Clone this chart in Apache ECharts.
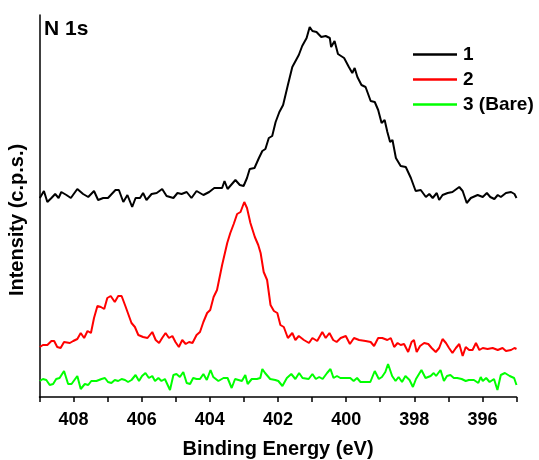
<!DOCTYPE html>
<html>
<head>
<meta charset="utf-8">
<script src="https://cdn.jsdelivr.net/npm/echarts@6/dist/echarts.min.js"></script>
<style>
html,body{margin:0;padding:0;background:#fff;}
#chart{width:539px;height:460px;}
</style>
</head>
<body>
<div id="chart"></div>
<script>
// Binding energy (eV) and intensity (arbitrary c.p.s. units)
const energy1 = [408.99,408.87,408.77,408.65,408.54,408.44,408.36,408.21,408.08,407.89,407.72,407.57,407.40,407.28,407.13,406.99,406.77,406.67,406.54,406.42,406.28,406.18,406.05,405.96,405.86,405.71,405.56,405.40,405.27,405.07,404.95,404.83,404.68,404.54,404.39,404.19,404.02,403.87,403.64,403.57,403.48,403.25,403.12,403.01,402.91,402.83,402.69,402.56,402.46,402.37,402.27,402.17,402.07,401.96,401.85,401.71,401.58,401.39,401.29,401.16,401.07,400.99,400.87,400.73,400.60,400.48,400.44,400.34,400.24,400.06,399.92,399.82,399.75,399.67,399.55,399.43,399.28,399.16,399.06,398.96,398.87,398.79,398.71,398.64,398.54,398.40,398.25,398.10,397.96,397.81,397.66,397.56,397.46,397.34,397.27,397.17,397.02,396.88,396.68,396.58,396.46,396.34,396.14,395.99,395.87,395.77,395.65,395.55,395.46,395.31,395.16,395.06,395.00];
const intensity1 = [199,206,195,199,203,199,205,202,199,208,203,200,206,197,199,199,207,207,195,202,190,199,199,204,197,203,204,208,201,199,204,203,205,199,206,202,205,209,209,216,208,217,212,211,219,228,229,239,246,248,259,261,275,285,292,312,330,342,351,359,370,366,365,360,361,359,350,356,343,339,330,324,329,320,312,310,296,295,287,274,277,265,255,257,239,231,230,219,206,207,200,203,199,204,197,202,204,205,210,206,194,199,202,200,204,200,198,202,200,204,205,203,199];

const energy2 = [408.99,408.90,408.77,408.65,408.57,408.48,408.38,408.28,408.11,408.01,407.89,407.79,407.69,407.59,407.49,407.40,407.30,407.20,407.10,407.01,406.91,406.79,406.69,406.59,406.48,406.30,406.20,406.10,405.96,405.83,405.69,405.59,405.49,405.40,405.30,405.20,405.10,405.01,404.91,404.81,404.71,404.61,404.51,404.39,404.29,404.19,404.08,403.99,403.89,403.79,403.64,403.49,403.40,403.30,403.20,403.10,402.99,402.91,402.81,402.68,402.58,402.51,402.42,402.32,402.22,402.12,402.02,401.93,401.83,401.71,401.58,401.49,401.39,401.24,401.09,400.99,400.85,400.70,400.60,400.49,400.38,400.28,400.16,400.01,399.89,399.77,399.62,399.43,399.28,399.18,399.06,398.94,398.79,398.69,398.59,398.49,398.40,398.30,398.18,398.08,398.01,397.93,397.83,397.71,397.59,397.49,397.37,397.27,397.17,397.07,396.98,396.88,396.78,396.68,396.58,396.49,396.39,396.29,396.19,396.09,395.99,395.85,395.70,395.55,395.41,395.31,395.16,395.06,395.00];
const intensity2 = [50,52,52,56,56,50,49,55,54,56,58,64,59,66,64,79,91,90,88,99,101,95,101,101,91,74,70,62,60,59,65,57,54,59,64,59,61,55,50,57,53,55,54,62,65,75,84,87,100,107,132,154,164,173,183,185,195,189,174,160,152,144,125,117,92,86,84,72,70,59,64,57,61,57,54,59,56,65,59,64,57,55,59,61,53,59,57,56,55,51,59,59,57,59,50,54,52,53,45,55,57,45,51,54,53,49,45,49,58,54,49,44,49,53,41,50,47,47,54,47,49,48,49,47,49,46,47,49,48];

const energy3 = [408.99,408.90,408.80,408.70,408.60,408.51,408.41,408.28,408.16,408.06,407.89,407.79,407.67,407.57,407.48,407.33,407.18,407.08,406.99,406.89,406.79,406.69,406.59,406.49,406.40,406.30,406.18,406.08,405.99,405.89,405.79,405.69,405.61,405.51,405.42,405.32,405.17,405.07,404.98,404.88,404.78,404.68,404.58,404.49,404.39,404.29,404.19,404.09,403.98,403.90,403.75,403.60,403.48,403.36,403.26,403.16,403.06,402.96,402.89,402.77,402.62,402.52,402.46,402.38,402.23,402.08,401.99,401.87,401.74,401.61,401.49,401.38,401.28,401.10,400.99,400.89,400.79,400.69,400.56,400.46,400.37,400.27,400.17,400.02,399.88,399.78,399.68,399.58,399.49,399.29,399.16,399.04,398.95,398.85,398.77,398.65,398.55,398.46,398.36,398.26,398.14,398.04,397.95,397.79,397.67,397.52,397.43,397.36,397.23,397.13,397.04,396.94,396.84,396.74,396.61,396.49,396.40,396.25,396.12,396.05,395.99,395.89,395.79,395.66,395.56,395.46,395.34,395.20,395.07,395.00];
const intensity3 = [16,18,17,12,13,18,19,26,13,13,21,8,13,12,16,16,18,19,15,14,17,16,18,17,15,17,22,16,21,24,19,21,16,19,16,18,7,22,23,20,25,14,13,19,18,18,23,17,27,20,16,19,19,9,18,17,16,22,13,18,18,19,28,24,18,17,16,11,19,23,18,24,19,18,23,18,20,18,24,28,19,21,19,19,19,16,19,15,15,15,26,18,20,25,33,21,16,20,15,21,17,10,18,27,19,21,24,21,27,16,21,22,19,19,18,16,17,17,14,20,16,19,15,18,7,22,24,21,19,12];

const seriesNames = ['1', '2', '3 (Bare)'];
const seriesColors = ['#000000', '#ff0000', '#00ff00'];
const xTicks = [408, 406, 404, 402, 400, 398, 396];

function zip(xs, ys) { return xs.map((x, i) => [x, ys[i]]); }
const datasets = [zip(energy1, intensity1), zip(energy2, intensity2), zip(energy3, intensity3)];

const FONT = 'Liberation Sans, Arial, sans-serif';
const chart = echarts.init(document.getElementById('chart'), null, {renderer: 'canvas'});
chart.setOption({
  animation: false,
  backgroundColor: '#ffffff',
  title: {
    text: 'N 1s', left: 42, top: 17, padding: [2, 2, 2, 2],
    textStyle: {fontFamily: FONT, fontWeight: 'bold', fontSize: 21, color: '#000'}
  },
  legend: {
    orient: 'vertical', left: 411, top: 43, padding: [2, 2, 2, 2],
    icon: 'rect', itemWidth: 44, itemHeight: 2.5, itemGap: 6,
    textStyle: {fontFamily: FONT, fontWeight: 'bold', fontSize: 19, color: '#000', padding: [0, 0, 0, 1]},
    data: seriesNames
  },
  grid: {left: 39.5, right: 22.5, top: 15, bottom: 63, containLabel: false, outerBoundsMode: 'none'},
  xAxis: {
    type: 'value', min: 395, max: 409, interval: 1, inverse: true,
    name: 'Binding Energy (eV)', nameLocation: 'middle', nameGap: 42,
    nameTextStyle: {fontFamily: FONT, fontWeight: 'bold', fontSize: 20, color: '#000'},
    axisLine: {show: true, lineStyle: {color: '#000', width: 1.5}},
    axisTick: {show: true, inside: false, length: 5, lineStyle: {color: '#000', width: 1.5}},
    axisLabel: {
      fontFamily: FONT, fontWeight: 'bold', fontSize: 18, color: '#000', margin: 14,
      formatter: v => xTicks.includes(v) ? String(v) : ''
    },
    splitLine: {show: false}
  },
  yAxis: {
    type: 'value', min: 0, max: 382,
    name: 'Intensity (c.p.s.)', nameLocation: 'middle', nameGap: 12, nameRotate: 90,
    nameTextStyle: {fontFamily: FONT, fontWeight: 'bold', fontSize: 20, color: '#000', padding: [0, 28, 0, 0]},
    axisLine: {show: true, lineStyle: {color: '#000', width: 1.5}},
    axisTick: {show: false},
    axisLabel: {show: false},
    splitLine: {show: false}
  },
  series: datasets.map((d, i) => ({
    name: seriesNames[i], type: 'line', data: d,
    symbol: 'none', showSymbol: false, smooth: false,
    lineStyle: {color: seriesColors[i], width: 2},
    itemStyle: {color: seriesColors[i]}
  }))
});
</script>
</body>
</html>
